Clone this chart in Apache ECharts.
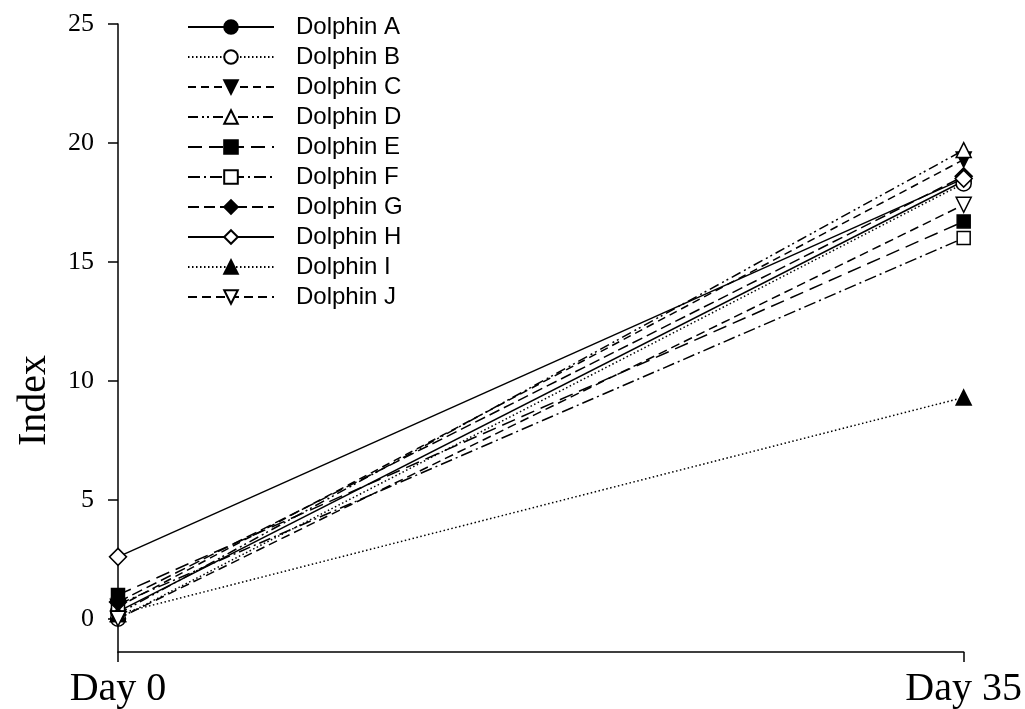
<!DOCTYPE html>
<html>
<head>
<meta charset="utf-8">
<script src="https://cdn.jsdelivr.net/npm/echarts@6/dist/echarts.min.js"></script>
<style>html,body{margin:0;padding:0;background:#fff;}#c{width:1025px;height:709px;}</style>
</head>
<body>
<div id="c"></div>
<script>
const categories = ['Day 0', 'Day 35'];
const names = ['Dolphin A','Dolphin B','Dolphin C','Dolphin D','Dolphin E','Dolphin F','Dolphin G','Dolphin H','Dolphin I','Dolphin J'];
const day0 = [0.3, 0.0, 0.5, 0.2, 1.0, 0.6, 0.7, 2.6, 0.2, 0.0];
const day35 = [18.4, 18.3, 19.3, 19.7, 16.7, 16.0, 18.6, 18.5, 9.3, 17.4];
const yTicks = [0, 5, 10, 15, 20, 25];

const styles = [
  {dash: 'solid', symbol: 'circle', fill: true, rot: 0},
  {dash: [1.5, 2.5], symbol: 'circle', fill: false, rot: 0},
  {dash: [8, 5], symbol: 'triangle', fill: true, rot: 180},
  {dash: [10, 4, 2, 3, 2, 4], symbol: 'triangle', fill: false, rot: 0},
  {dash: [14, 7], symbol: 'rect', fill: true, rot: 0},
  {dash: [12, 4, 2, 4], symbol: 'rect', fill: false, rot: 0},
  {dash: [11, 5], symbol: 'diamond', fill: true, rot: 0},
  {dash: 'solid', symbol: 'diamond', fill: false, rot: 0},
  {dash: [1.5, 2.5], symbol: 'triangle', fill: true, rot: 0},
  {dash: [9, 5], symbol: 'triangle', fill: false, rot: 180}
];

const series = names.map((n, i) => ({
  name: n,
  type: 'line',
  data: [day0[i], day35[i]],
  symbol: styles[i].symbol,
  symbolSize: styles[i].symbol === 'rect' ? 13 : (styles[i].symbol === 'diamond' ? 17 : 15),
  symbolRotate: styles[i].rot,
  showAllSymbol: true,
  lineStyle: {color: '#000', width: 1.5, type: styles[i].dash},
  itemStyle: {color: styles[i].fill ? '#000' : '#fff', borderColor: '#000', borderWidth: 1.5},
  emphasis: {disabled: true},
  animation: false,
  z: 2 + i
}));

const chart = echarts.init(document.getElementById('c'));
chart.setOption({
  animation: false,
  backgroundColor: '#fff',
  grid: {left: 118, right: 60, top: 24, bottom: 56, containLabel: false},
  legend: {
    orient: 'vertical',
    left: 187,
    top: 15,
    padding: 0,
    itemWidth: 86,
    itemHeight: 17,
    itemGap: 6,
    data: names,
    textStyle: {fontFamily: 'Liberation Sans', fontSize: 24, color: '#000', lineHeight: 24, padding: [0, 0, 0, 17]}
  },
  xAxis: {
    type: 'category',
    data: categories,
    boundaryGap: false,
    axisLine: {onZero: false, lineStyle: {color: '#000', width: 1.5}},
    axisTick: {show: true, length: 10, lineStyle: {color: '#000', width: 1.5}},
    axisLabel: {fontFamily: 'Liberation Serif', fontSize: 40, color: '#000', margin: 17}
  },
  yAxis: {
    type: 'value',
    min: -1.4,
    max: 25,
    splitLine: {show: false},
    axisLine: {show: true, lineStyle: {color: '#000', width: 1.5}},
    axisTick: {show: true, length: 10, customValues: yTicks, lineStyle: {color: '#000', width: 1.5}},
    axisLabel: {customValues: yTicks, fontFamily: 'Liberation Serif', fontSize: 26, color: '#000', margin: 24}
  },
  graphic: [{
    type: 'text',
    left: 14,
    top: 355,
    rotation: Math.PI / 2,
    style: {text: 'Index', fontFamily: 'Liberation Serif', fontSize: 40, fill: '#000'}
  }],
  series: series
});
</script>
</body>
</html>
